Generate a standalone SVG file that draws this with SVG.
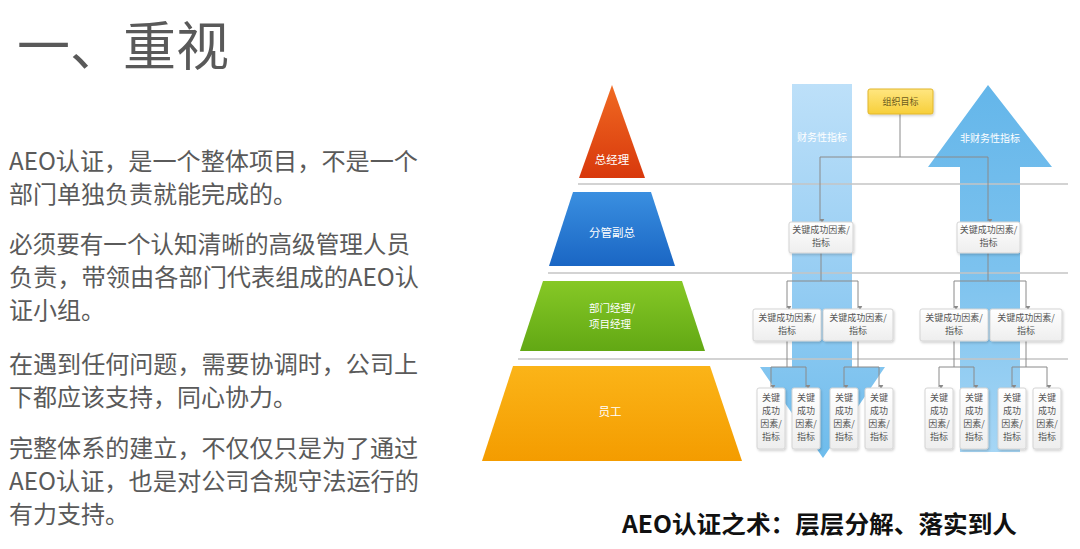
<svg xmlns="http://www.w3.org/2000/svg" width="1080" height="549" viewBox="0 0 1080 549">
<defs>
<style>
.title{font-family:"Noto Sans CJK SC","Noto Sans",sans-serif;font-size:53px;fill:#595959}
.para{font-family:"Noto Sans CJK SC","Noto Sans",sans-serif;font-size:24px;fill:#5a5a5a}
.cap{font-family:"Noto Sans CJK SC","Noto Sans",sans-serif;font-size:24px;font-weight:bold;fill:#111}
.lvl{font-family:"Noto Sans CJK SC",sans-serif;font-size:11.5px;fill:#fff;text-anchor:middle}
.lvs{font-family:"Noto Sans CJK SC",sans-serif;font-size:10.5px;fill:#fff;text-anchor:middle}
.arr{font-family:"Noto Sans CJK SC",sans-serif;font-size:10px;fill:#fff;text-anchor:middle}
.bt{font-family:"Noto Sans CJK SC",sans-serif;font-size:9px;fill:#555;text-anchor:middle}
.yt{font-family:"Noto Sans CJK SC",sans-serif;font-size:9px;fill:#6b5a1e;text-anchor:middle}
.box{fill:url(#gBox);stroke:#d4d4d4;stroke-width:1;filter:url(#sh)}
.sep{stroke:#c4c4c4;stroke-width:1.5;fill:none}
.con{stroke:#8a8a8a;stroke-width:1;fill:none}
.cona{stroke:#8a8a8a;stroke-width:1;fill:none;marker-end:url(#ah)}
</style>
<linearGradient id="gRed" x1="0" y1="0" x2="0" y2="1"><stop offset="0" stop-color="#f06a22"/><stop offset="1" stop-color="#d8380c"/></linearGradient>
<linearGradient id="gBlue" x1="0" y1="0" x2="0" y2="1"><stop offset="0" stop-color="#3a8fe0"/><stop offset="1" stop-color="#1a66c4"/></linearGradient>
<linearGradient id="gGreen" x1="0" y1="0" x2="0" y2="1"><stop offset="0" stop-color="#86c826"/><stop offset="1" stop-color="#62a814"/></linearGradient>
<linearGradient id="gOrange" x1="0" y1="0" x2="0" y2="1"><stop offset="0" stop-color="#fbb418"/><stop offset="1" stop-color="#f49c00"/></linearGradient>
<linearGradient id="gL" x1="0" y1="0" x2="0" y2="1"><stop offset="0" stop-color="#bde0f9"/><stop offset="0.5" stop-color="#98cef3"/><stop offset="1" stop-color="#6ebcec"/></linearGradient>
<linearGradient id="gR" x1="0" y1="0" x2="0" y2="1"><stop offset="0" stop-color="#64b6ea"/><stop offset="0.5" stop-color="#7cc2ee"/><stop offset="1" stop-color="#a6d6f5"/></linearGradient>
<linearGradient id="gBox" x1="0" y1="0" x2="0" y2="1"><stop offset="0" stop-color="#ffffff"/><stop offset="1" stop-color="#eeeeee"/></linearGradient>
<linearGradient id="gY" x1="0" y1="0" x2="0" y2="1"><stop offset="0" stop-color="#ffe680"/><stop offset="1" stop-color="#f7cf3a"/></linearGradient>
<filter id="sh" x="-20%" y="-20%" width="140%" height="140%"><feDropShadow dx="1" dy="1.5" stdDeviation="1" flood-color="#000" flood-opacity="0.18"/></filter>
<marker id="ah" markerWidth="5" markerHeight="5" refX="2.5" refY="4.5" orient="auto-start-reverse" markerUnits="userSpaceOnUse" viewBox="0 0 5 5"><path d="M0,0 L2.5,5 L5,0 Z" fill="#8a8a8a" transform="rotate(-90 2.5 2.5)"/></marker>
</defs>
<rect width="1080" height="549" fill="#ffffff"/>

<g id="title"><text class="title" x="17" y="66">一、重视</text></g>

<g id="paragraphs">
<text class="para" x="9" y="170" textLength="409" lengthAdjust="spacingAndGlyphs">AEO认证，是一个整体项目，不是一个</text>
<text class="para" x="9" y="203">部门单独负责就能完成的。</text>
<text class="para" x="9" y="253" textLength="401" lengthAdjust="spacingAndGlyphs">必须要有一个认知清晰的高级管理人员</text>
<text class="para" x="9" y="286" textLength="410" lengthAdjust="spacingAndGlyphs">负责，带领由各部门代表组成的AEO认</text>
<text class="para" x="9" y="319">证小组。</text>
<text class="para" x="9" y="373" textLength="409" lengthAdjust="spacingAndGlyphs">在遇到任何问题，需要协调时，公司上</text>
<text class="para" x="9" y="406">下都应该支持，同心协力。</text>
<text class="para" x="9" y="457" textLength="409" lengthAdjust="spacingAndGlyphs">完整体系的建立，不仅仅只是为了通过</text>
<text class="para" x="9" y="490" textLength="410" lengthAdjust="spacingAndGlyphs">AEO认证，也是对公司合规守法运行的</text>
<text class="para" x="9" y="523">有力支持。</text>
</g>

<g id="caption"><text class="cap" x="622" y="533" textLength="395" lengthAdjust="spacingAndGlyphs">AEO认证之术：层层分解、落实到人</text></g>

<g id="arrow-financial">
<polygon points="792,84 852,84 852,367 885,367 823,458 760,367 792,367" fill="url(#gL)"/>
<text class="arr" x="822" y="141">财务性指标</text>
</g>
<g id="arrow-nonfinancial">
<polygon points="988,85 1052,167 1020,167 1020,452 960,452 960,167 928,167" fill="url(#gR)"/>
<text class="arr" x="990" y="142">非财务性指标</text>
</g>

<g id="separators">
<line class="sep" x1="578" y1="184" x2="1068" y2="184"/>
<line class="sep" x1="548" y1="273" x2="1068" y2="273"/>
<line class="sep" x1="518" y1="359" x2="1068" y2="359"/>
</g>

<g id="level-gm">
<polygon points="612,85 645,178 579,178" fill="url(#gRed)"/>
<text class="lvl" x="612" y="164">总经理</text>
</g>
<g id="level-vp">
<polygon points="573,192 651,192 675,266 549,266" fill="url(#gBlue)"/>
<text class="lvl" x="612" y="237">分管副总</text>
</g>
<g id="level-mgr">
<polygon points="543,281 682,281 705,351 520,351" fill="url(#gGreen)"/>
<text class="lvs" x="612" y="312">部门经理/</text>
<text class="lvs" x="610" y="328">项目经理</text>
</g>
<g id="level-staff">
<polygon points="513,366 710,366 742,461 482,461" fill="url(#gOrange)"/>
<text class="lvl" x="610" y="416">员工</text>
</g>

<g id="connectors">
<path class="con" d="M900,114 V157 M820,157 H988"/>
<path class="cona" d="M820,157 V221"/>
<path class="cona" d="M988,157 V221"/>
<path class="con" d="M821,253 V281 M787,281 H858"/>
<path class="cona" d="M787,281 V308"/>
<path class="cona" d="M858,281 V308"/>
<path class="con" d="M988,253 V281 M954,281 H1026"/>
<path class="cona" d="M954,281 V308"/>
<path class="cona" d="M1026,281 V308"/>
<path class="con" d="M787,341 V367 M771,367 H806"/>
<path class="cona" d="M771,367 V387"/>
<path class="cona" d="M806,367 V387"/>
<path class="con" d="M858,341 V367 M844,367 H879"/>
<path class="cona" d="M844,367 V387"/>
<path class="cona" d="M879,367 V387"/>
<path class="con" d="M954,341 V367 M939,367 H974"/>
<path class="cona" d="M939,367 V387"/>
<path class="cona" d="M974,367 V387"/>
<path class="con" d="M1026,341 V367 M1012,367 H1047"/>
<path class="cona" d="M1012,367 V387"/>
<path class="cona" d="M1047,367 V387"/>
</g>

<g id="goal">
<rect x="868" y="89" width="65" height="25" rx="2" fill="url(#gY)" stroke="#e2b62a" stroke-width="1" filter="url(#sh)"/>
<text class="yt" x="900.5" y="105">组织目标</text>
</g>

<g id="ksf-2a"><rect class="box" x="789" y="222" width="64" height="31" rx="2"/><text class="bt" x="821" y="233">关键成功因素/</text><text class="bt" x="821" y="246">指标</text></g>
<g id="ksf-2b"><rect class="box" x="957" y="222" width="63" height="31" rx="2"/><text class="bt" x="988.5" y="233">关键成功因素/</text><text class="bt" x="988.5" y="246">指标</text></g>

<g id="ksf-3a"><rect class="box" x="753" y="309" width="68" height="32" rx="2"/><text class="bt" x="787" y="321">关键成功因素/</text><text class="bt" x="787" y="334">指标</text></g>
<g id="ksf-3b"><rect class="box" x="823" y="309" width="70" height="32" rx="2"/><text class="bt" x="858" y="321">关键成功因素/</text><text class="bt" x="858" y="334">指标</text></g>
<g id="ksf-3c"><rect class="box" x="920" y="309" width="68" height="32" rx="2"/><text class="bt" x="954" y="321">关键成功因素/</text><text class="bt" x="954" y="334">指标</text></g>
<g id="ksf-3d"><rect class="box" x="990" y="309" width="72" height="32" rx="2"/><text class="bt" x="1026" y="321">关键成功因素/</text><text class="bt" x="1026" y="334">指标</text></g>

<g id="ksf-4a"><rect class="box" x="757" y="388" width="28" height="61" rx="2"/><text class="bt" x="771" y="401">关键</text><text class="bt" x="771" y="414">成功</text><text class="bt" x="771" y="427">因素/</text><text class="bt" x="771" y="440">指标</text></g>
<g id="ksf-4b"><rect class="box" x="792" y="388" width="28" height="61" rx="2"/><text class="bt" x="806" y="401">关键</text><text class="bt" x="806" y="414">成功</text><text class="bt" x="806" y="427">因素/</text><text class="bt" x="806" y="440">指标</text></g>
<g id="ksf-4c"><rect class="box" x="830" y="388" width="28" height="61" rx="2"/><text class="bt" x="844" y="401">关键</text><text class="bt" x="844" y="414">成功</text><text class="bt" x="844" y="427">因素/</text><text class="bt" x="844" y="440">指标</text></g>
<g id="ksf-4d"><rect class="box" x="865" y="388" width="28" height="61" rx="2"/><text class="bt" x="879" y="401">关键</text><text class="bt" x="879" y="414">成功</text><text class="bt" x="879" y="427">因素/</text><text class="bt" x="879" y="440">指标</text></g>
<g id="ksf-4e"><rect class="box" x="925" y="388" width="28" height="61" rx="2"/><text class="bt" x="939" y="401">关键</text><text class="bt" x="939" y="414">成功</text><text class="bt" x="939" y="427">因素/</text><text class="bt" x="939" y="440">指标</text></g>
<g id="ksf-4f"><rect class="box" x="960" y="388" width="28" height="61" rx="2"/><text class="bt" x="974" y="401">关键</text><text class="bt" x="974" y="414">成功</text><text class="bt" x="974" y="427">因素/</text><text class="bt" x="974" y="440">指标</text></g>
<g id="ksf-4g"><rect class="box" x="998" y="388" width="28" height="61" rx="2"/><text class="bt" x="1012" y="401">关键</text><text class="bt" x="1012" y="414">成功</text><text class="bt" x="1012" y="427">因素/</text><text class="bt" x="1012" y="440">指标</text></g>
<g id="ksf-4h"><rect class="box" x="1033" y="388" width="28" height="61" rx="2"/><text class="bt" x="1047" y="401">关键</text><text class="bt" x="1047" y="414">成功</text><text class="bt" x="1047" y="427">因素/</text><text class="bt" x="1047" y="440">指标</text></g>
</svg>
